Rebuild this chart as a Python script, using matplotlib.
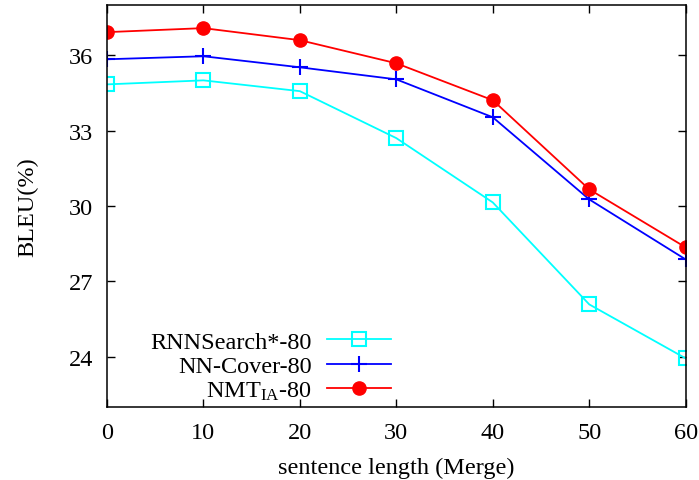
import matplotlib
matplotlib.use("Agg")
import matplotlib.pyplot as plt

plt.rcParams['font.family'] = ['Liberation Serif', 'DejaVu Serif']
plt.rcParams['mathtext.fontset'] = 'custom'
plt.rcParams['mathtext.rm'] = 'Liberation Serif'
plt.rcParams['mathtext.it'] = 'Liberation Serif:italic'

lengths = [0, 10, 20, 30, 40, 50, 60]
rnnsearch = [34.84, 35.0, 34.57, 32.7, 30.14, 26.08, 23.93]
nn_cover = [35.84, 35.96, 35.52, 35.04, 33.53, 30.26, 27.87]
nmt_ia = [36.92, 37.08, 36.6, 35.68, 34.21, 30.66, 28.35]

labels = ['RNNSearch*-80', 'NN-Cover-80', r'NMT$_{\mathrm{IA}}$-80']
yticks = [24, 27, 30, 33, 36]

FS = 17.5

fig = plt.figure(figsize=(6.99, 4.81), dpi=100)
ax = fig.add_axes([0.153, 0.152, 0.828, 0.8355])

ax.plot(lengths, rnnsearch, color='#00ffff', lw=1.3, marker='s', ms=9.5,
        mfc='none', mec='#00ffff', mew=1.5, label=labels[0])
ax.plot(lengths, nn_cover, color='#0000ff', lw=1.3, marker='+', ms=11,
        mew=1.5, label=labels[1])
ax.plot(lengths, nmt_ia, color='#ff0000', lw=1.3, marker='o', ms=9.5,
        label=labels[2])

ax.set_xlim(0, 60)
ax.set_ylim(22, 38)
ax.set_xticks(lengths)
ax.set_yticks(yticks)
ax.tick_params(direction='in', length=6, width=1, labelsize=FS,
               top=True, right=True)
ax.tick_params(axis='x', pad=11)
ax.tick_params(axis='y', pad=10)
for s in ax.spines.values():
    s.set_linewidth(1.1)

ax.set_xlabel('sentence length (Merge)', fontsize=FS, labelpad=10)
ax.set_ylabel('BLEU(%)', fontsize=FS, labelpad=22)

ax.legend(loc='lower left', bbox_to_anchor=(0.058, -0.012), markerfirst=False,
          frameon=False, fontsize=FS, handlelength=2.6, handletextpad=0.65,
          labelspacing=0.1, borderaxespad=0.0)

fig.savefig('out.png', dpi=100)
